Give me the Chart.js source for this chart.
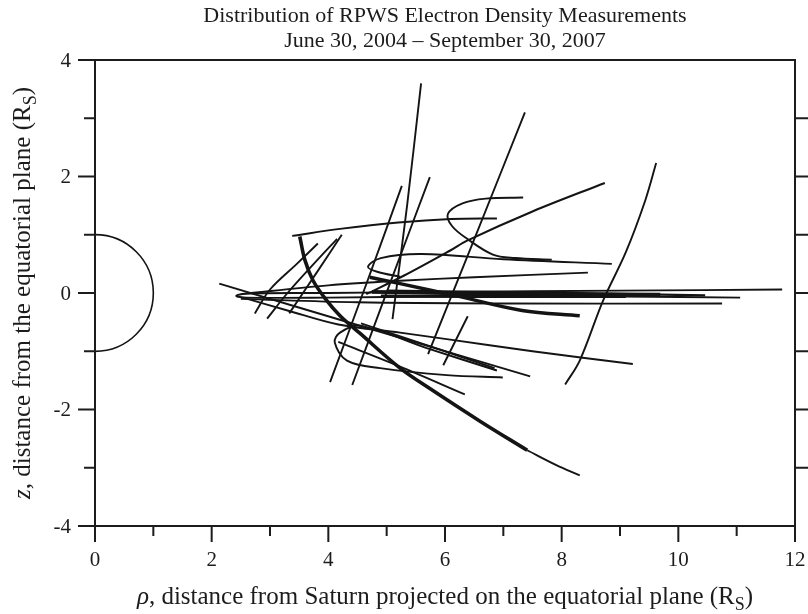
<!DOCTYPE html>
<html>
<head>
<meta charset="utf-8">
<title>RPWS Electron Density Measurements</title>
<script src="https://cdn.jsdelivr.net/npm/chart.js@4.4.1/dist/chart.umd.min.js"></script>
<style>
    html, body { margin: 0; padding: 0; background: #fff; }
    canvas { display: block; }
</style>
</head>
<body>
<canvas id="densityChart" width="808" height="614"></canvas>
<script>
        // axis ticks (R_S)
        const xMajorTicks = [0, 2, 4, 6, 8, 10, 12];
        const xMinorTicks = [1, 3, 5, 7, 9, 11];
        const yMajorTicks = [-4, -2, 0, 2, 4];
        const yMinorTicks = [-3, -1, 1, 3];
        const rightTicks = [-3, -2, -1, 0, 1, 2, 3];
        const saturnRadius = 1;

        // spacecraft passes, [rho, z] in R_S
        const passDiagonal = [[2.13, 0.16], [4.8, -0.64], [7.46, -1.43]];
        const passLowFan = [[2.54, -0.08], [3.3, -0.3], [4.17, -0.54], [5.23, -0.68], [6.09, -0.8], [7.5, -1.0], [9.22, -1.22]];
        const passArcTop = [[3.38, 0.98], [4.2, 1.1], [5.2, 1.21], [6.1, 1.27], [6.89, 1.28]];
        const passInbound = [[3.51, 0.97], [3.6, 0.56], [3.74, 0.21], [3.95, -0.1], [4.2, -0.39], [4.54, -0.69], [5.23, -1.29], [5.74, -1.64], [6.6, -2.2], [7.41, -2.7]];
        const passInboundTail = [[7.41, -2.7], [7.9, -2.95], [8.31, -3.13]];
        const passShortA = [[2.74, -0.35], [3.0, 0.06], [3.46, 0.5], [3.82, 0.85]];
        const passShortB = [[2.95, -0.44], [3.3, 0.0], [3.75, 0.5], [4.15, 0.93]];
        const passShortC = [[3.33, -0.35], [3.8, 0.35], [4.23, 1.0]];
        const passSteepD = [[5.26, 1.84], [4.65, 0.15], [4.03, -1.53]];
        const passSteepE = [[5.74, 1.99], [5.07, 0.2], [4.41, -1.58]];
        const passTall = [[5.59, 3.6], [5.35, 1.5], [5.1, -0.45]];
        const passSteepG = [[7.37, 3.1], [6.54, 1.02], [5.71, -1.05]];
        const passShortH = [[6.39, -0.4], [5.97, -1.24]];
        const passOuter = [[9.62, 2.23], [9.43, 1.58], [9.1, 0.7], [8.71, -0.13], [8.31, -1.16], [8.06, -1.57]];
        const passRising = [[4.65, -0.02], [5.3, 0.3], [6.09, 0.73], [6.38, 0.9], [7.5, 1.4], [8.74, 1.89]];
        const passUpperLoop = [[7.34, 1.64], [6.7, 1.62], [6.3, 1.54], [6.05, 1.36], [6.12, 1.15], [6.38, 0.93], [6.82, 0.66], [7.2, 0.6], [7.83, 0.57]];
        const passMidLoop = [[5.23, 0.28], [4.85, 0.36], [4.68, 0.45], [4.9, 0.6], [5.6, 0.67], [7.0, 0.58], [8.86, 0.5]];
        const passUpperBand = [[2.5, -0.02], [4.0, 0.13], [5.23, 0.21], [6.5, 0.27], [8.45, 0.35]];
        const passHeavyBand = [[4.71, 0.27], [5.23, 0.16], [6.2, -0.05], [7.32, -0.3], [8.31, -0.39]];
        const passEquatorLoop = [[11.78, 0.06], [9.0, 0.04], [6.0, 0.02], [4.0, 0.0], [2.6, -0.01], [2.42, -0.05], [2.6, -0.08], [4.0, -0.08], [6.0, -0.06], [9.0, -0.06], [11.06, -0.08]];
        const passEquatorLow = [[2.5, -0.1], [4.5, -0.16], [7.0, -0.18], [10.75, -0.18]];
        const passEquatorCore = [[4.75, 0.02], [6.0, 0.0], [8.0, -0.02], [9.69, -0.03]];
        const passEquatorCore2 = [[4.9, -0.05], [6.5, -0.06], [9.1, -0.06]];
        const passEquatorCore3 = [[5.0, 0.04], [7.5, 0.01], [10.46, -0.04]];
        const passLowerLoop = [[6.89, -1.33], [5.7, -0.95], [4.54, -0.56], [4.2, -0.68], [4.11, -0.85], [4.32, -1.16], [4.89, -1.29], [6.03, -1.41], [6.99, -1.45]];
        const passLowerTwin = [[4.56, -0.52], [5.7, -0.9], [6.85, -1.29]];
        const passLowerN = [[4.17, -0.84], [5.2, -1.25], [6.34, -1.74]];

        const INK = '#141414';
        const SERIF = '"Liberation Serif", "DejaVu Serif", serif';

        function track(points, width) {
            return {
                data: points.map(p => ({ x: p[0], y: p[1] })),
                showLine: true,
                borderColor: INK,
                borderWidth: width || 1.9,
                tension: 0.35,
                pointRadius: 0,
                fill: false
            };
        }

        const datasets = [
            track(passDiagonal),
            track(passLowFan),
            track(passArcTop),
            track(passInbound, 3.6),
            track(passInboundTail),
            track(passShortA),
            track(passShortB),
            track(passShortC),
            track(passSteepD),
            track(passSteepE),
            track(passTall),
            track(passSteepG),
            track(passShortH),
            track(passOuter),
            track(passRising, 2.1),
            track(passUpperLoop),
            track(passMidLoop),
            track(passUpperBand),
            track(passHeavyBand, 3.4),
            track(passEquatorLoop),
            track(passEquatorLow),
            track(passEquatorCore, 3.8),
            track(passEquatorCore2, 3),
            track(passEquatorCore3, 2.2),
            track(passLowerLoop),
            track(passLowerTwin),
            track(passLowerN)
        ];

        // draws text made of pieces (italic letters, subscripts) centred on x
        function richText(ctx, parts, x, y, size) {
            const pieces = parts.map(p => {
                const s = p.sub ? size * 0.72 : size;
                const font = (p.italic ? 'italic ' : '') + s + 'px ' + SERIF;
                ctx.font = font;
                return { text: p.t, font, dy: p.sub ? size * 0.22 : 0, w: ctx.measureText(p.t).width };
            });
            const total = pieces.reduce((a, p) => a + p.w, 0);
            let cx = x - total / 2;
            ctx.textAlign = 'left';
            ctx.textBaseline = 'alphabetic';
            pieces.forEach(p => {
                ctx.font = p.font;
                ctx.fillText(p.text, cx, y + p.dy);
                cx += p.w;
            });
        }

        const saturnPlugin = {
            id: 'saturn',
            beforeDatasetsDraw(chart) {
                const { ctx, scales: { x, y } } = chart;
                const cx = x.getPixelForValue(0);
                const cy = y.getPixelForValue(0);
                const r = x.getPixelForValue(saturnRadius) - cx;
                ctx.save();
                ctx.strokeStyle = INK;
                ctx.lineWidth = 1.6;
                ctx.beginPath();
                ctx.arc(cx, cy, r, -Math.PI / 2, Math.PI / 2);
                ctx.stroke();
                ctx.restore();
            }
        };

        const framePlugin = {
            id: 'frame',
            afterDraw(chart) {
                const { ctx, chartArea: a, scales: { x, y } } = chart;
                ctx.save();
                ctx.strokeStyle = '#1c1c1c';
                ctx.fillStyle = '#1c1c1c';
                ctx.lineWidth = 2;
                ctx.strokeRect(a.left, a.top, a.right - a.left, a.bottom - a.top);

                ctx.beginPath();
                xMajorTicks.forEach(v => {
                    const px = x.getPixelForValue(v);
                    ctx.moveTo(px, a.bottom); ctx.lineTo(px, a.bottom + 16);
                });
                xMinorTicks.forEach(v => {
                    const px = x.getPixelForValue(v);
                    ctx.moveTo(px, a.bottom); ctx.lineTo(px, a.bottom + 10);
                });
                yMajorTicks.forEach(v => {
                    const py = y.getPixelForValue(v);
                    ctx.moveTo(a.left, py); ctx.lineTo(a.left - 17, py);
                });
                yMinorTicks.forEach(v => {
                    const py = y.getPixelForValue(v);
                    ctx.moveTo(a.left, py); ctx.lineTo(a.left - 11, py);
                });
                rightTicks.forEach(v => {
                    const py = y.getPixelForValue(v);
                    ctx.moveTo(a.right, py); ctx.lineTo(a.right + 14, py);
                });
                ctx.stroke();

                // tick labels
                ctx.font = '21px ' + SERIF;
                ctx.textAlign = 'center';
                ctx.textBaseline = 'alphabetic';
                xMajorTicks.forEach(v => {
                    ctx.fillText(String(v), x.getPixelForValue(v), a.bottom + 40);
                });
                ctx.textAlign = 'right';
                ctx.textBaseline = 'middle';
                yMajorTicks.forEach(v => {
                    ctx.fillText(String(v), a.left - 24, y.getPixelForValue(v) + 1);
                });

                // titles
                const midX = (a.left + a.right) / 2;
                ctx.textAlign = 'center';
                ctx.textBaseline = 'alphabetic';
                ctx.font = '22px ' + SERIF;
                ctx.fillText('Distribution of RPWS Electron Density Measurements', midX, 22);
                ctx.fillText('June 30, 2004 \u2013 September 30, 2007', midX, 47);

                richText(ctx, [
                    { t: '\u03c1', italic: true },
                    { t: ', distance from Saturn projected on the equatorial plane (R' },
                    { t: 'S', sub: true },
                    { t: ')' }
                ], midX, 604, 25);

                ctx.save();
                ctx.translate(30, (a.top + a.bottom) / 2);
                ctx.rotate(-Math.PI / 2);
                richText(ctx, [
                    { t: 'z', italic: true },
                    { t: ', distance from the equatorial plane (R' },
                    { t: 'S', sub: true },
                    { t: ')' }
                ], 0, 0, 25);
                ctx.restore();
                ctx.restore();
            }
        };

        new Chart(document.getElementById('densityChart').getContext('2d'), {
            type: 'scatter',
            data: { datasets },
            options: {
                responsive: false,
                animation: false,
                devicePixelRatio: 1,
                layout: { padding: { left: 95, right: 13, top: 60, bottom: 88 } },
                scales: {
                    x: { type: 'linear', min: 0, max: 12, display: false },
                    y: { type: 'linear', min: -4, max: 4, display: false }
                },
                plugins: {
                    legend: { display: false },
                    tooltip: { enabled: false },
                    title: { display: false }
                },
                elements: { point: { radius: 0 } }
            },
            plugins: [saturnPlugin, framePlugin]
        });
</script>
</body>
</html>
